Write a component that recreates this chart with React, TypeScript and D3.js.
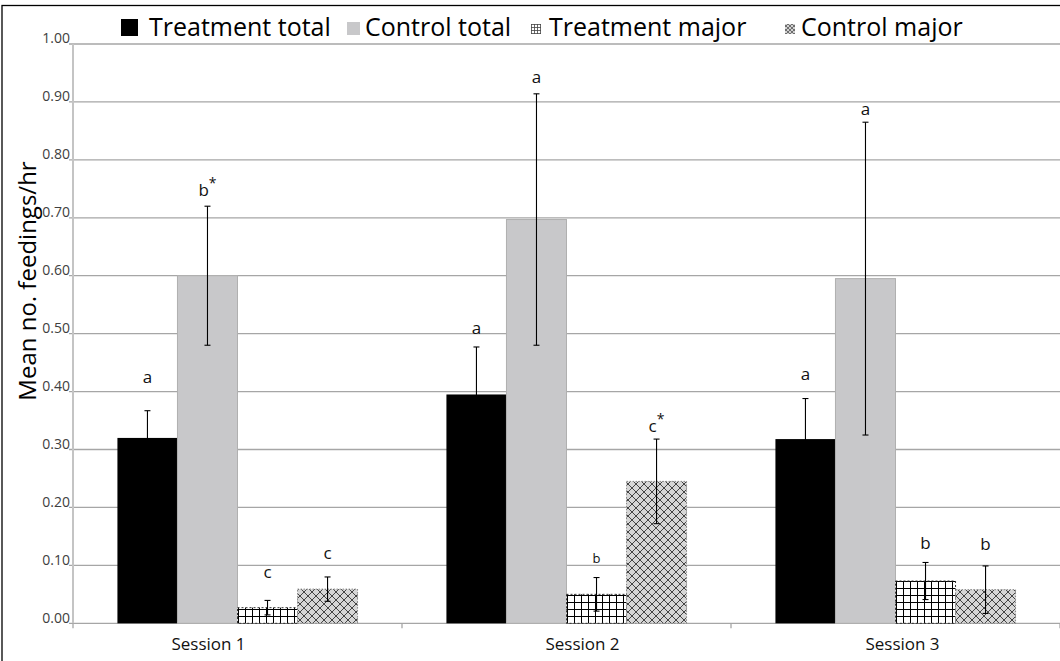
import React from "react";
import * as d3 from "d3";

const sessions = ["Session 1", "Session 2", "Session 3"];
const seriesNames = ["Treatment total", "Control total", "Treatment major", "Control major"];

const treatmentTotal = [0.32, 0.395, 0.318];
const controlTotal = [0.6, 0.697, 0.595];
const treatmentMajor = [0.027, 0.05, 0.073];
const controlMajor = [0.059, 0.245, 0.058];

const errTreatmentTotal = [0.047, 0.082, 0.07];
const errControlTotal = [0.12, 0.217, 0.27];
const errTreatmentMajor = [0.0125, 0.029, 0.032];
const errControlMajor = [0.021, 0.073, 0.041];

const lettersTreatmentTotal = ["a", "a", "a"];
const lettersControlTotal = ["b*", "a", "a"];
const lettersTreatmentMajor = ["c", "b", "b"];
const lettersControlMajor = ["c", "c*", "b"];

// baseline heights of the significance letters (in data units)
const letterLevelTreatmentTotal = [0.415, 0.5, 0.42];
const letterLevelControlTotal = [0.738, 0.932, 0.877];
const letterLevelTreatmentMajor = [0.078, 0.104, 0.129];
const letterLevelControlMajor = [0.111, 0.331, 0.127];

const yTicks = [0, 0.1, 0.2, 0.3, 0.4, 0.5, 0.6, 0.7, 0.8, 0.9, 1.0];

const values = [treatmentTotal, controlTotal, treatmentMajor, controlMajor];
const errors = [errTreatmentTotal, errControlTotal, errTreatmentMajor, errControlMajor];
const letters = [lettersTreatmentTotal, lettersControlTotal, lettersTreatmentMajor, lettersControlMajor];
const letterLevels = [letterLevelTreatmentTotal, letterLevelControlTotal, letterLevelTreatmentMajor, letterLevelControlMajor];

const W = 1060;
const H = 661;
const FONT = "'Open Sans', 'Noto Sans', sans-serif";

const fills = ["#000000", "#c8c8ca", "url(#tmPat)", "url(#cmPat)"];
const strokes = ["none", "#b0b0b0", "#333", "#888"];
const dashes = [undefined, undefined, "2,2", "1.5,1.5"];

export default function App() {
  const left = 73;
  const right = 1060;
  const y = d3.scaleLinear().domain([0, 1]).range([623.3, 44]);
  const x0 = d3.scaleBand<string>().domain(sessions).range([left, right]).padding(0);
  const x1 = d3
    .scaleBand<string>()
    .domain(seriesNames)
    .range([0, x0.bandwidth()])
    .paddingInner(0)
    .paddingOuter(0.74);
  const bw = x1.bandwidth();
  const labelDx = [-29, 16, 7];

  const legendLayout = [
    { iconX: 121, iconY: 19, size: 17, textX: 149 },
    { iconX: 347, iconY: 22, size: 13, textX: 365 },
    { iconX: 531, iconY: 24, size: 10, textX: 549 },
    { iconX: 785, iconY: 24, size: 10, textX: 801 },
  ];

  return (
    <svg
      width={W}
      height={H}
      style={{ position: "absolute", left: 0, top: 0, display: "block", background: "#fff" }}
      fontFamily={FONT}
    >
      <defs>
        <pattern id="tmPat" patternUnits="userSpaceOnUse" width={7} height={7}>
          <rect width={7} height={7} fill="#fff" />
          <line x1={0.5} y1={0} x2={0.5} y2={7} stroke="#000" strokeWidth={1} />
          <line x1={0} y1={0.5} x2={7} y2={0.5} stroke="#000" strokeWidth={1} />
        </pattern>
        <pattern id="cmPat" patternUnits="userSpaceOnUse" width={8} height={8}>
          <rect width={8} height={8} fill="#d6d6d6" />
          <path d="M0,0 L8,8 M8,0 L0,8" stroke="#333" strokeWidth={0.9} />
        </pattern>
        <pattern id="tmPatSmall" patternUnits="userSpaceOnUse" width={3} height={3}>
          <rect width={3} height={3} fill="#fff" />
          <line x1={0.5} y1={0} x2={0.5} y2={3} stroke="#444" strokeWidth={0.8} />
          <line x1={0} y1={0.5} x2={3} y2={0.5} stroke="#444" strokeWidth={0.8} />
        </pattern>
        <pattern id="cmPatSmall" patternUnits="userSpaceOnUse" width={4} height={4}>
          <rect width={4} height={4} fill="#d0d0d0" />
          <path d="M0,0 L4,4 M4,0 L0,4" stroke="#444" strokeWidth={0.7} />
        </pattern>
      </defs>

      {/* outer frame */}
      <rect x={2} y={5.5} width={W + 20} height={H + 20} fill="none" stroke="#000" strokeWidth={1.3} />

      {/* gridlines */}
      {yTicks.map((t) => (
        <g key={t}>
          <line x1={left - 4} x2={right} y1={y(t)} y2={y(t)} stroke="#a6a6a6" strokeWidth={1.3} />
          <text x={left - 3} y={y(t)} textAnchor="end" dy="-0.05em" fontSize={14} fill="#404040">
            {t.toFixed(2)}
          </text>
        </g>
      ))}

      {/* y axis line */}
      <line x1={left} x2={left} y1={y(1)} y2={y(0)} stroke="#c4c4c4" strokeWidth={2} />

      {/* x ticks */}
      {sessions.map((s) => (
        <line
          key={s}
          x1={x0(s) as number}
          x2={x0(s) as number}
          y1={y(0)}
          y2={y(0) + 5}
          stroke="#a6a6a6"
          strokeWidth={1.3}
        />
      ))}
      <line x1={right} x2={right} y1={y(0)} y2={y(0) + 5} stroke="#a6a6a6" strokeWidth={1.3} />

      {/* bars */}
      {sessions.map((s, i) => (
        <g key={s}>
          {seriesNames.map((name, k) => {
            const bx = (x0(s) as number) + (x1(name) as number);
            const v = values[k][i];
            return (
              <rect
                key={name}
                x={bx}
                y={y(v)}
                width={bw}
                height={y(0) - y(v)}
                fill={fills[k]}
                stroke={strokes[k]}
                strokeWidth={1}
                strokeDasharray={dashes[k]}
              />
            );
          })}
        </g>
      ))}

      {/* error bars */}
      {sessions.map((s, i) => (
        <g key={s + "e"}>
          {seriesNames.map((name, k) => {
            const cx = (x0(s) as number) + (x1(name) as number) + bw / 2;
            const v = values[k][i];
            const e = errors[k][i];
            const lo = y(Math.max(0, v - e));
            const hi = y(v + e);
            return (
              <g key={name} stroke="#000" strokeWidth={1.1}>
                <line x1={cx} x2={cx} y1={lo} y2={hi} />
                <line x1={cx - 3} x2={cx + 3} y1={hi} y2={hi} />
                <line x1={cx - 3} x2={cx + 3} y1={lo} y2={lo} />
              </g>
            );
          })}
        </g>
      ))}

      {/* letters */}
      {sessions.map((s, i) => (
        <g key={s + "l"}>
          {seriesNames.map((name, k) => {
            const cx = (x0(s) as number) + (x1(name) as number) + bw / 2;
            const txt = letters[k][i];
            const base = txt.replace("*", "");
            const star = txt.includes("*");
            const fs = k === 2 && i === 1 ? 13 : 17;
            return (
              <text key={name} x={cx} y={y(letterLevels[k][i])} textAnchor="middle" fontSize={fs} fill="#111">
                {base}
                {star ? (
                  <tspan dy={-8} fontSize={14}>
                    *
                  </tspan>
                ) : null}
              </text>
            );
          })}
        </g>
      ))}

      {/* x labels */}
      {sessions.map((s, i) => (
        <text
          key={s + "x"}
          x={(x0(s) as number) + x0.bandwidth() / 2 + labelDx[i]}
          y={y(0) + 27}
          textAnchor="middle"
          fontSize={17}
          fill="#111"
        >
          {s}
        </text>
      ))}

      {/* y title */}
      <text
        transform={`translate(26, ${281}) rotate(-90)`}
        textAnchor="middle"
        dominantBaseline="central"
        fontSize={24}
        fill="#000"
      >
        Mean no. feedings/hr
      </text>

      {/* legend */}
      {seriesNames.map((name, k) => {
        const L = legendLayout[k];
        const iconFill = k === 0 ? "#000" : k === 1 ? "#c8c8ca" : k === 2 ? "url(#tmPatSmall)" : "url(#cmPatSmall)";
        return (
          <g key={name + "lg"}>
            <rect x={L.iconX} y={L.iconY} width={L.size} height={L.size} fill={iconFill} />
            <text x={L.textX} y={36} fontSize={25} fill="#000">
              {name}
            </text>
          </g>
        );
      })}
    </svg>
  );
}
